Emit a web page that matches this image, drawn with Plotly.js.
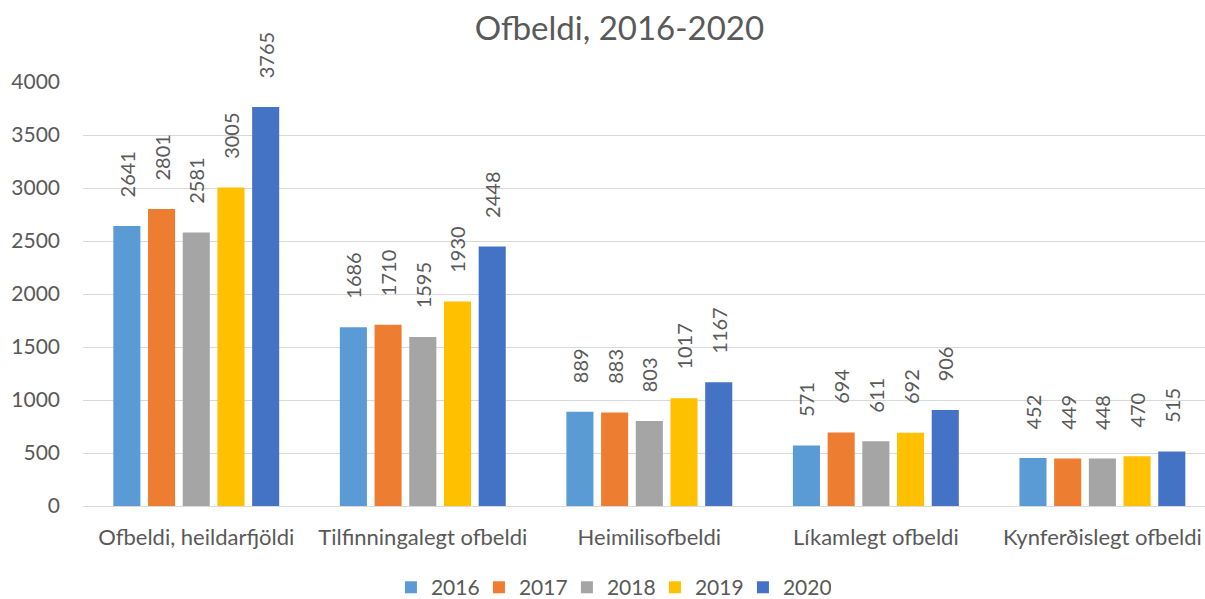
<!DOCTYPE html>
<html>
<head>
<meta charset="utf-8">
<script src="https://cdn.plot.ly/plotly-3.0.1.min.js"></script>
<style>html,body{margin:0;padding:0;background:#fff;}#chart{width:1205px;height:599px;}</style>
</head>
<body>
<div id="chart"></div>
<script>
const categories = ["Ofbeldi, heildarfjöldi", "Tilfinningalegt ofbeldi", "Heimilisofbeldi", "Líkamlegt ofbeldi", "Kynferðislegt ofbeldi"];
const years = ["2016", "2017", "2018", "2019", "2020"];
const v2016 = [2641, 1686, 889, 571, 452];
const v2017 = [2801, 1710, 883, 694, 449];
const v2018 = [2581, 1595, 803, 611, 448];
const v2019 = [3005, 1930, 1017, 692, 470];
const v2020 = [3765, 2448, 1167, 906, 515];
const yTicks = [0, 500, 1000, 1500, 2000, 2500, 3000, 3500, 4000];

const series = [v2016, v2017, v2018, v2019, v2020];
const colors = ["#5B9BD5", "#ED7D31", "#A5A5A5", "#FFC000", "#4472C4"];
const FONT = "Lato, 'Open Sans', sans-serif";
const GREY = "#595959";

const traces = series.map((vals, i) => ({
  type: "bar",
  name: years[i],
  x: categories,
  y: vals,
  marker: {color: colors[i]},
  text: vals.map(v => "\u00A0\u00A0\u00A0\u00A0\u00A0" + v),
  texttemplate: "%{text}",
  textposition: "outside",
  textangle: -90,
  cliponaxis: false,
  constraintext: "none",
  textfont: {family: FONT, size: 20, color: GREY},
  hoverinfo: "x+y+name"
}));

const layout = {
  width: 1205,
  height: 599,
  paper_bgcolor: "#ffffff",
  plot_bgcolor: "#ffffff",
  margin: {l: 83, r: 0, t: 82, b: 93, autoexpand: false},
  font: {family: FONT, color: GREY, size: 21},
  title: {
    text: "Ofbeldi, 2016-2020",
    font: {family: FONT, size: 33, color: GREY},
    xref: "container", x: 0.514, xanchor: "center",
    yref: "container", y: 0.953, yanchor: "middle"
  },
  barmode: "group",
  bargap: 0.234,
  bargroupgap: 0.22,
  xaxis: {
    type: "category",
    range: [-0.5, 4.453],
    showgrid: false,
    showline: true,
    linecolor: "#D9D9D9",
    linewidth: 1,
    ticks: "",
    tickfont: {family: FONT, size: 22, color: GREY},
    ticklabelstandoff: 12
  },
  yaxis: {
    range: [0, 4000],
    tickmode: "array",
    tickvals: yTicks,
    ticktext: yTicks.map(String),
    showgrid: true,
    gridcolor: "#D9D9D9",
    gridwidth: 1,
    zeroline: false,
    showline: false,
    ticks: "",
    tickfont: {family: FONT, size: 21, color: GREY},
    ticklabelstandoff: 22
  },
  legend: {
    orientation: "h",
    xref: "container", x: 0.507, xanchor: "center",
    yref: "container", y: 0.019, yanchor: "middle",
    font: {family: FONT, size: 21, color: GREY},
    itemwidth: 30,
    entrywidth: 43,
    entrywidthmode: "pixels",
    traceorder: "normal"
  },
  showlegend: true
};

Plotly.newPlot("chart", traces, layout, {displayModeBar: false, staticPlot: true});
</script>
</body>
</html>
